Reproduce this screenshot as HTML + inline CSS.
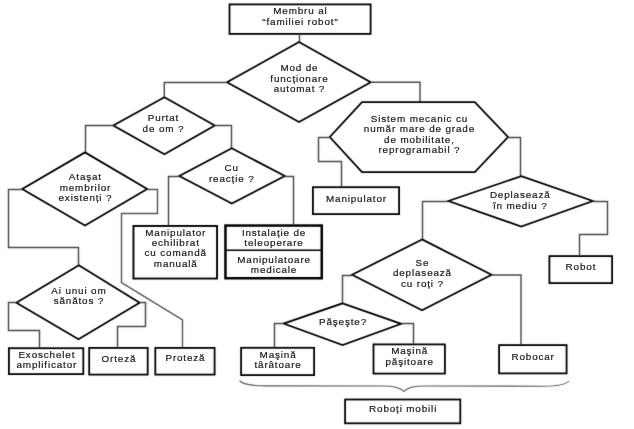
<!DOCTYPE html>
<html><head><meta charset="utf-8"><style>
html,body{margin:0;padding:0;background:#fff;}
svg{display:block;will-change:transform;}
text{font-family:"Liberation Sans",sans-serif;fill:#1a1a1a;stroke:#1a1a1a;stroke-width:0.2;text-anchor:middle;}
</style></head><body>
<svg width="634" height="429" viewBox="0 0 634 429">
<defs><filter id="bl" x="0" y="0" width="634" height="429" filterUnits="userSpaceOnUse"><feConvolveMatrix order="3" kernelMatrix="0.02 0.06 0.02 0.06 0.68 0.06 0.02 0.06 0.02" edgeMode="duplicate"/></filter></defs>
<rect width="634" height="429" fill="#fff"/>
<g filter="url(#bl)">
<rect x="229.5" y="4.4" width="141.1" height="29.5" fill="none" stroke="#000" stroke-width="1.8"/>
<polyline points="299.5,34 299.5,42" fill="none" stroke="#4a4a4a" stroke-width="1.45"/>
<polygon points="299,42 370.7,82.2 299,122 227,82.2" fill="none" stroke="#000" stroke-width="1.8"/>
<polyline points="227,82.4 164.3,82.4 164.3,97.5" fill="none" stroke="#4a4a4a" stroke-width="1.45"/>
<polyline points="370.7,82.2 420,82.2 420,102.2" fill="none" stroke="#4a4a4a" stroke-width="1.45"/>
<polygon points="164.4,97.3 214.8,125.5 164.4,154.2 113.3,125.5" fill="none" stroke="#000" stroke-width="1.8"/>
<polyline points="113.3,125.5 85.5,125.5 85.5,152.4" fill="none" stroke="#4a4a4a" stroke-width="1.45"/>
<polyline points="214.8,125.5 231.5,125.5 231.5,148.2" fill="none" stroke="#4a4a4a" stroke-width="1.45"/>
<polygon points="85,152.4 147.2,189 85,225.5 22.2,189" fill="none" stroke="#000" stroke-width="1.8"/>
<polyline points="22.2,189.5 8.5,189.5 8.5,247.5 78.5,247.5 78.5,265.3" fill="none" stroke="#4a4a4a" stroke-width="1.45"/>
<polyline points="147.2,189.5 157.5,189.5 157.5,213.5 121.5,213.5 121.5,282.5 182.5,320 182.5,347" fill="none" stroke="#555555" stroke-width="1.4"/>
<polygon points="78.8,265.3 139.6,302.7 78.5,339.3 16.4,302.7" fill="none" stroke="#000" stroke-width="1.8"/>
<polyline points="16.4,302.5 8.5,302.5 8.5,330.5 39.5,330.5 39.5,347.2" fill="none" stroke="#4a4a4a" stroke-width="1.45"/>
<polyline points="139.6,302.5 145.5,302.5 145.5,326.5 117.5,326.5 117.5,347" fill="none" stroke="#4a4a4a" stroke-width="1.45"/>
<rect x="8.9" y="348.2" width="74.4" height="25.9" fill="none" stroke="#000" stroke-width="1.8"/>
<rect x="89.2" y="347.9" width="58.5" height="26.7" fill="none" stroke="#000" stroke-width="1.8"/>
<rect x="155.3" y="347.9" width="59.3" height="26.7" fill="none" stroke="#000" stroke-width="1.8"/>
<polygon points="231.8,148.3 284.8,176 231.8,203.5 179.3,176" fill="none" stroke="#000" stroke-width="1.8"/>
<polyline points="179.3,176.5 168.5,176.5 168.5,225.3" fill="none" stroke="#4a4a4a" stroke-width="1.45"/>
<polyline points="284.8,176.5 293.5,176.5 293.5,224.5" fill="none" stroke="#4a4a4a" stroke-width="1.45"/>
<rect x="133.45" y="225.95" width="83.6" height="52.6" fill="none" stroke="#000" stroke-width="1.9"/>
<rect x="225.45" y="225.55" width="96.3" height="52.7" fill="none" stroke="#000" stroke-width="2.5"/>
<polyline points="225,250.2 322,250.2" fill="none" stroke="#000" stroke-width="1.5"/>
<polygon points="362,102.2 474.8,102.2 508,137 474.8,172.2 362,172.2 329.8,137" fill="none" stroke="#000" stroke-width="1.8"/>
<polyline points="329.8,137.5 318.5,137.5 318.5,161.5 341.5,161.5 341.5,186.5" fill="none" stroke="#4a4a4a" stroke-width="1.45"/>
<polyline points="508,137.5 520.5,137.5 520.5,176" fill="none" stroke="#4a4a4a" stroke-width="1.45"/>
<rect x="312.9" y="187.2" width="86.2" height="26.9" fill="none" stroke="#000" stroke-width="1.8"/>
<polygon points="521.2,176.1 592.8,201 521.2,226.5 448.5,201" fill="none" stroke="#000" stroke-width="1.8"/>
<polyline points="448.5,201.5 422.5,201.5 422.5,239.3" fill="none" stroke="#4a4a4a" stroke-width="1.45"/>
<polyline points="592.8,201.5 607.5,201.5 607.5,234.5 579.5,234.5 579.5,255.2" fill="none" stroke="#4a4a4a" stroke-width="1.45"/>
<rect x="549.4" y="256.1" width="62.7" height="27" fill="none" stroke="#000" stroke-width="1.8"/>
<polygon points="422.1,239.4 491.5,274.8 422,310.2 352.1,274.8" fill="none" stroke="#000" stroke-width="1.8"/>
<polyline points="352.1,275.5 342.5,275.5 342.5,303.3" fill="none" stroke="#4a4a4a" stroke-width="1.45"/>
<polyline points="491.5,275 521,275 521,344.2" fill="none" stroke="#4a4a4a" stroke-width="1.45"/>
<polygon points="342.6,303.3 401.2,323.8 342.6,345 283.6,323.6" fill="none" stroke="#000" stroke-width="1.8"/>
<polyline points="283.6,323.5 274.5,323.5 274.5,346.9" fill="none" stroke="#4a4a4a" stroke-width="1.45"/>
<polyline points="401.2,323.5 413.5,323.5 413.5,343.6" fill="none" stroke="#4a4a4a" stroke-width="1.45"/>
<rect x="241.1" y="347.8" width="73" height="27.3" fill="none" stroke="#000" stroke-width="1.8"/>
<rect x="373.5" y="344.4" width="71.4" height="29.2" fill="none" stroke="#000" stroke-width="1.8"/>
<rect x="499.1" y="345.1" width="67.5" height="28.3" fill="none" stroke="#000" stroke-width="1.8"/>
<path d="M239.5,380.7 C242.5,384.5 250,385.9 266,385.9 L383,386 C395,386 401,388.5 403.8,391.3 C406.5,388.5 412,386 425,386 L543,386.2 C560,386.2 566,384.5 568.8,381" fill="none" stroke="#5a5a5a" stroke-width="1.1"/>
<rect x="345.1" y="399.5" width="115.2" height="23.8" fill="none" stroke="#000" stroke-width="1.8"/>
</g>
<g>
<text transform="translate(300.43 14.30) scale(1.03 1)" font-size="9.6" letter-spacing="0.825">Membru al</text>
<text transform="translate(300.43 25.00) scale(1.03 1)" font-size="9.6" letter-spacing="0.825">“familiei robot”</text>
<text transform="translate(299.43 71.40) scale(1.03 1)" font-size="9.6" letter-spacing="0.825">Mod de</text>
<text transform="translate(299.43 81.70) scale(1.03 1)" font-size="9.6" letter-spacing="0.825">funcționare</text>
<text transform="translate(299.43 91.60) scale(1.03 1)" font-size="9.6" letter-spacing="0.825">automat ?</text>
<text transform="translate(163.43 121.10) scale(1.03 1)" font-size="9.6" letter-spacing="0.825">Purtat</text>
<text transform="translate(163.43 131.60) scale(1.03 1)" font-size="9.6" letter-spacing="0.825">de om ?</text>
<text transform="translate(85.42 180.40) scale(1.03 1)" font-size="9.6" letter-spacing="0.825">Ataşat</text>
<text transform="translate(85.42 190.90) scale(1.03 1)" font-size="9.6" letter-spacing="0.825">membrilor</text>
<text transform="translate(85.42 201.40) scale(1.03 1)" font-size="9.6" letter-spacing="0.825">existenți ?</text>
<text transform="translate(78.92 293.60) scale(1.03 1)" font-size="9.6" letter-spacing="0.825">Ai unui om</text>
<text transform="translate(78.92 303.80) scale(1.03 1)" font-size="9.6" letter-spacing="0.825">sănătos ?</text>
<text transform="translate(46.82 357.70) scale(1.03 1)" font-size="9.6" letter-spacing="0.825">Exoschelet</text>
<text transform="translate(46.82 368.00) scale(1.03 1)" font-size="9.6" letter-spacing="0.825">amplificator</text>
<text transform="translate(118.92 361.90) scale(1.03 1)" font-size="9.6" letter-spacing="0.825">Orteză</text>
<text transform="translate(185.43 361.10) scale(1.03 1)" font-size="9.6" letter-spacing="0.825">Proteză</text>
<text transform="translate(231.73 170.50) scale(1.03 1)" font-size="9.6" letter-spacing="0.825">Cu</text>
<text transform="translate(231.73 181.50) scale(1.03 1)" font-size="9.6" letter-spacing="0.825">reacție ?</text>
<text transform="translate(175.73 235.80) scale(1.03 1)" font-size="9.6" letter-spacing="0.825">Manipulator</text>
<text transform="translate(175.73 245.80) scale(1.03 1)" font-size="9.6" letter-spacing="0.825">echilibrat</text>
<text transform="translate(175.73 256.00) scale(1.03 1)" font-size="9.6" letter-spacing="0.825">cu comandă</text>
<text transform="translate(175.73 266.50) scale(1.03 1)" font-size="9.6" letter-spacing="0.825">manuală</text>
<text transform="translate(274.03 236.20) scale(1.03 1)" font-size="9.6" letter-spacing="0.825">Instalație de</text>
<text transform="translate(274.03 246.10) scale(1.03 1)" font-size="9.6" letter-spacing="0.825">teleoperare</text>
<text transform="translate(274.03 263.20) scale(1.03 1)" font-size="9.6" letter-spacing="0.825">Manipulatoare</text>
<text transform="translate(274.03 273.20) scale(1.03 1)" font-size="9.6" letter-spacing="0.825">medicale</text>
<text transform="translate(419.43 121.60) scale(1.03 1)" font-size="9.6" letter-spacing="0.825">Sistem mecanic cu</text>
<text transform="translate(419.43 132.40) scale(1.03 1)" font-size="9.6" letter-spacing="0.825">număr mare de grade</text>
<text transform="translate(419.43 142.50) scale(1.03 1)" font-size="9.6" letter-spacing="0.825">de mobilitate,</text>
<text transform="translate(419.43 152.70) scale(1.03 1)" font-size="9.6" letter-spacing="0.825">reprogramabil ?</text>
<text transform="translate(356.43 201.70) scale(1.03 1)" font-size="9.6" letter-spacing="0.825">Manipulator</text>
<text transform="translate(520.22 198.10) scale(1.03 1)" font-size="9.6" letter-spacing="0.825">Deplasează</text>
<text transform="translate(520.22 209.00) scale(1.03 1)" font-size="9.6" letter-spacing="0.825">în mediu ?</text>
<text transform="translate(580.92 270.20) scale(1.03 1)" font-size="9.6" letter-spacing="0.825">Robot</text>
<text transform="translate(422.43 266.20) scale(1.03 1)" font-size="9.6" letter-spacing="0.825">Se</text>
<text transform="translate(422.43 276.20) scale(1.03 1)" font-size="9.6" letter-spacing="0.825">deplasează</text>
<text transform="translate(422.43 286.80) scale(1.03 1)" font-size="9.6" letter-spacing="0.825">cu roți ?</text>
<text transform="translate(343.03 325.20) scale(1.03 1)" font-size="9.6" letter-spacing="0.825">Păşeşte?</text>
<text transform="translate(278.03 357.60) scale(1.03 1)" font-size="9.6" letter-spacing="0.825">Maşină</text>
<text transform="translate(278.03 368.30) scale(1.03 1)" font-size="9.6" letter-spacing="0.825">târâtoare</text>
<text transform="translate(409.62 354.40) scale(1.03 1)" font-size="9.6" letter-spacing="0.825">Maşină</text>
<text transform="translate(409.62 364.90) scale(1.03 1)" font-size="9.6" letter-spacing="0.825">păşitoare</text>
<text transform="translate(533.12 360.30) scale(1.03 1)" font-size="9.6" letter-spacing="0.825">Robocar</text>
<text transform="translate(403.12 411.60) scale(1.03 1)" font-size="9.6" letter-spacing="0.825">Roboți mobili</text>
</g>
</svg>
</body></html>
